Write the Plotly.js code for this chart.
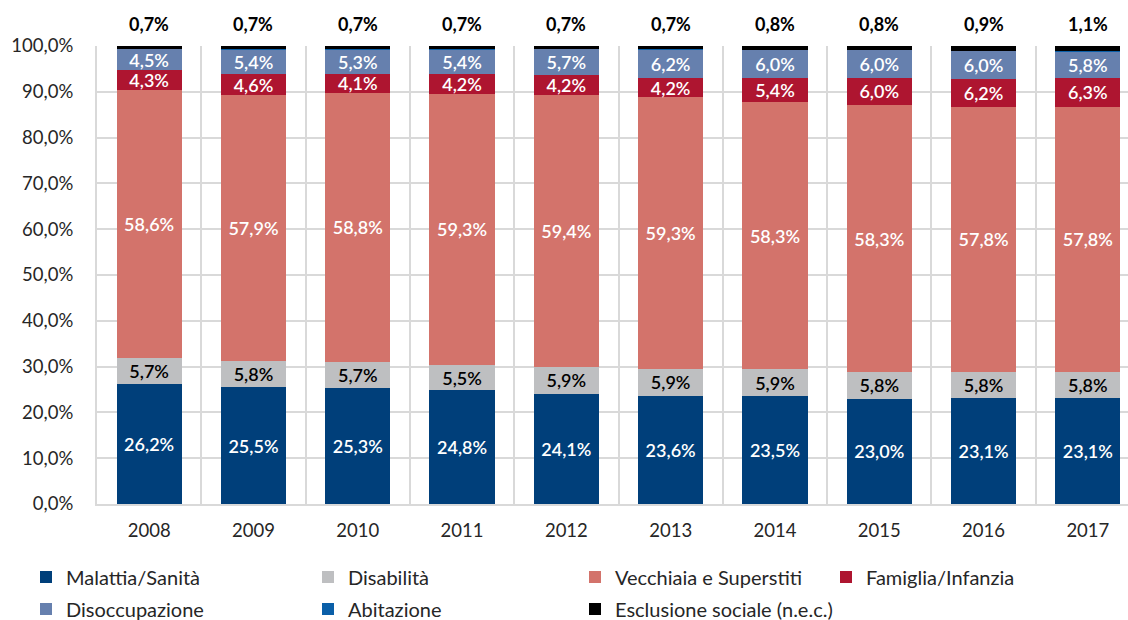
<!DOCTYPE html>
<html>
<head>
<meta charset="utf-8">
<script src="https://cdn.plot.ly/plotly-3.0.1.min.js"></script>
<style>html,body{margin:0;padding:0;background:#fff;}#chart{width:1128px;height:620px;}</style>
</head>
<body>
<div id="chart"></div>
<script>
const years = ['2008','2009','2010','2011','2012','2013','2014','2015','2016','2017'];
const malattia = [26.2,25.5,25.3,24.8,24.1,23.6,23.5,23.0,23.1,23.1];
const disabilita = [5.7,5.8,5.7,5.5,5.9,5.9,5.9,5.8,5.8,5.8];
const vecchiaia = [58.6,57.9,58.8,59.3,59.4,59.3,58.3,58.3,57.8,57.8];
const famiglia = [4.3,4.6,4.1,4.2,4.2,4.2,5.4,6.0,6.2,6.3];
const disoccupazione = [4.5,5.4,5.3,5.4,5.7,6.2,6.0,6.0,6.0,5.8];
const abitazione = [0.1,0.1,0.1,0.1,0.1,0.1,0.1,0.1,0.1,0.1];
const esclusione = [0.7,0.7,0.7,0.7,0.7,0.7,0.8,0.8,0.9,1.1];

const FONT = 'Lato, "Open Sans", sans-serif';
const fmt = v => v.toFixed(1).replace('.', ',') + '%';

function bar(name, vals, color, textColor, showText, legendId) {
  return {
    type: 'bar', name: name, x: years, y: vals,
    marker: {color: color, line: {width: 0}},
    text: showText ? vals.map(fmt) : undefined,
    textposition: showText ? 'inside' : 'none',
    insidetextanchor: 'middle',
    constraintext: 'none',
    textfont: {family: FONT, size: 18, color: textColor, weight: 600},
    width: 0.625,
    hoverinfo: 'none',
    legend: legendId
  };
}

const traces = [
  bar('Malattia/Sanità', malattia, '#003F7A', '#ffffff', true, 'legend'),
  bar('Disabilità', disabilita, '#BEBFC1', '#000000', true, 'legend2'),
  bar('Vecchiaia e Superstiti', vecchiaia, '#D3736B', '#ffffff', true, 'legend3'),
  bar('Famiglia/Infanzia', famiglia, '#AE1530', '#ffffff', true, 'legend4'),
  bar('Disoccupazione', disoccupazione, '#6680AE', '#ffffff', true, 'legend5'),
  bar('Abitazione', abitazione, '#0A5FA8', '#ffffff', false, 'legend6'),
  bar('Esclusione sociale (n.e.c.)', esclusione, '#000000', '#000000', false, 'legend7')
];

// labels for the top (Esclusione sociale) segment, placed just above the 100% stack top
// (x given as category index: numeric-looking strings are read as indices by Plotly)
const annotations = years.map((yr, i) => ({
  x: i, y: 1, xref: 'x', yref: 'paper', text: fmt(esclusione[i]),
  showarrow: false, yanchor: 'bottom', yshift: 9,
  font: {family: FONT, size: 18, color: '#000000', weight: 700}
}));

function leg(xpx, ypx) {
  return {
    x: xpx / 1128, y: 1 - ypx / 620, xref: 'container', yref: 'container',
    xanchor: 'left', yanchor: 'middle', orientation: 'h',
    bgcolor: 'rgba(0,0,0,0)', borderwidth: 0,
    font: {family: FONT, size: 20, color: '#262626'}
  };
}

const layout = {
  width: 1128, height: 620,
  margin: {l: 97, r: 0, t: 46, b: 116, pad: 0},
  paper_bgcolor: '#ffffff', plot_bgcolor: '#ffffff',
  separators: ',.',
  barmode: 'stack',
  font: {family: FONT, size: 18, color: '#262626'},
  xaxis: {
    type: 'category', range: [-0.5, 9.385],
    tickson: 'boundaries', showgrid: true, gridcolor: '#D9D9D9', gridwidth: 2,
    showline: true, linecolor: '#D9D9D9', linewidth: 2,
    ticks: '', ticklabelstandoff: 9,
    tickfont: {family: FONT, size: 18.5, color: '#262626'}
  },
  yaxis: {
    range: [0, 100], dtick: 10, tickformat: '.1f', ticksuffix: '%',
    showgrid: true, gridcolor: '#D9D9D9', gridwidth: 2,
    showline: true, linecolor: '#D9D9D9', linewidth: 2, zeroline: false,
    ticks: '', ticklabelstandoff: 18,
    tickfont: {family: FONT, size: 18.5, color: '#262626'}
  },
  showlegend: true,
  legend: leg(26, 577),
  legend2: leg(308, 577),
  legend3: leg(575, 577),
  legend4: leg(826, 577),
  legend5: leg(26, 609),
  legend6: leg(308, 609),
  legend7: leg(575, 609),
  annotations: annotations
};

Plotly.newPlot('chart', traces, layout, {displayModeBar: false, staticPlot: true});
</script>
</body>
</html>
